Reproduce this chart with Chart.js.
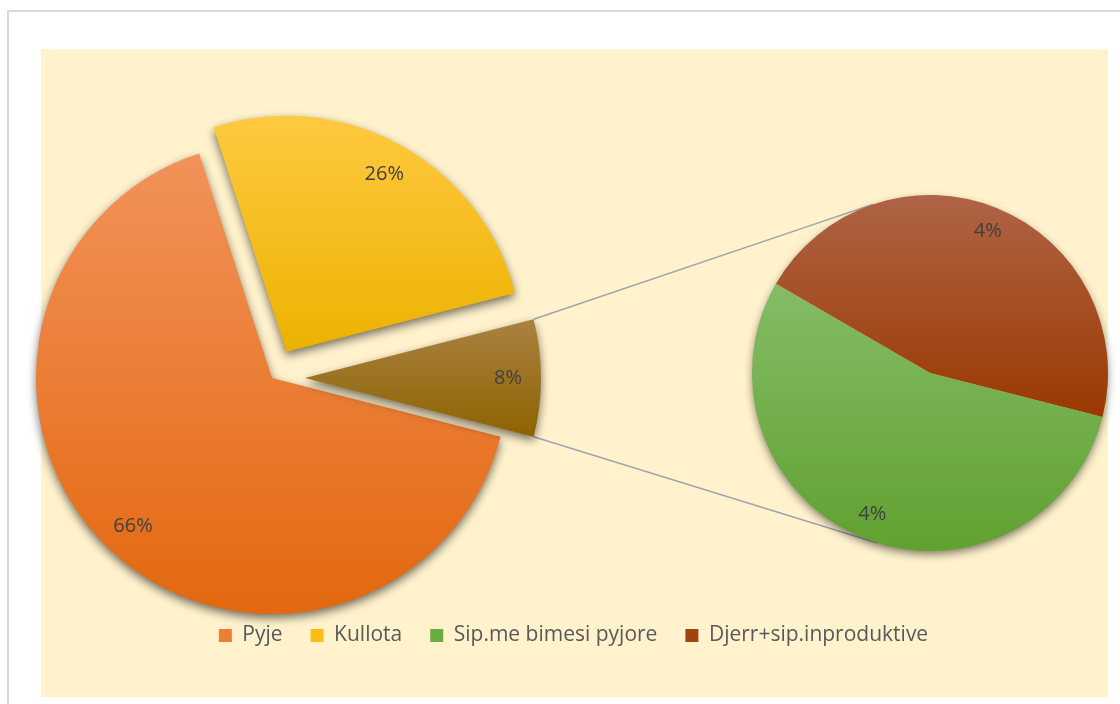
<!DOCTYPE html>
<html>
<head>
<meta charset="utf-8">
<script src="https://cdn.jsdelivr.net/npm/chart.js@4.4.1/dist/chart.umd.min.js"></script>
<style>
  html, body { margin: 0; padding: 0; background: #fff; }
  #wrap { position: relative; width: 1120px; height: 704px; overflow: hidden; }
  #frame { position: absolute; left: 7px; top: 10px; width: 1200px; height: 800px; border: 2px solid #d9d9d9; }
  #plot { position: absolute; left: 41px; top: 49px; width: 1067px; height: 648px; background: #fff2cc; }
  canvas { position: absolute; left: 0; top: 0; }
</style>
</head>
<body>
<div id="wrap">
  <div id="frame"></div>
  <div id="plot"></div>
  <canvas id="legendCanvas" width="1120" height="704"></canvas>
  <canvas id="mainCanvas" width="1120" height="704"></canvas>
  <canvas id="subCanvas" width="1120" height="704"></canvas>
</div>
<script>
// te dhenat (%)
const categories = ['Pyje', 'Kullota', 'Sip.me bimesi pyjore', 'Djerr+sip.inproduktive'];
const values = [66, 26, 4.35, 3.65];

// pie kryesore: dy kategorite e para + pjesa "tjeter" e ndare ne pien e dyte
const mainLabels = ['Pyje', 'Kullota', 'Tjeter'];
const mainValues = [values[0], values[1], values[2] + values[3]];
const subLabels = categories.slice(2);
const subValues = values.slice(2);

// ngjyrat [lart, poshte]
const mainColors = [['#F2925A', '#E3680F'], ['#FFC940', '#ECB200'], ['#AA8241', '#8D6300']];
const subColors = [['#84BC66', '#60A130'], ['#AF6446', '#9A3900']];
const legendColors = ['#EE7D35', '#FCBE14', '#6BAB43', '#A0440F'];

Chart.defaults.font.family = '"Open Sans", sans-serif';
const total = values.reduce((a, b) => a + b, 0);

// kufiri vertikal i nje fete (per gradientin)
function sliceBox(arc) {
  const r = arc.outerRadius;
  const ys = [arc.y, arc.y + Math.sin(arc.startAngle) * r, arc.y + Math.sin(arc.endAngle) * r];
  for (const a of [Math.PI / 2, Math.PI * 1.5]) {
    for (let k = -2; k <= 2; k++) {
      const t = a + k * Math.PI * 2;
      if (t > arc.startAngle && t < arc.endAngle) ys.push(arc.y + Math.sin(t) * r);
    }
  }
  return { top: Math.min(...ys), bottom: Math.max(...ys) };
}

const shading = {
  id: 'shading',
  // fetat e shkeputura: zhvendosje pa ndryshuar rrezen
  afterDatasetUpdate(chart, args, opts) {
    const explode = opts.explode || [];
    args.meta.data.forEach((arc, i) => {
      const e = explode[i] || 0;
      const mid = (arc.startAngle + arc.endAngle) / 2;
      arc.x += Math.cos(mid) * e;
      arc.y += Math.sin(mid) * e;
    });
  },
  beforeDatasetDraw(chart, args, opts) {
    const ctx = chart.ctx;
    args.meta.data.forEach((arc, i) => {
      const b = sliceBox(arc);
      const g = ctx.createLinearGradient(0, b.top, 0, b.bottom);
      g.addColorStop(0, opts.colors[i][0]);
      g.addColorStop(1, opts.colors[i][1]);
      arc.options.backgroundColor = g;
    });
    ctx.save();
    ctx.shadowColor = 'rgba(0,0,0,0.55)';
    ctx.shadowBlur = 10;
    ctx.shadowOffsetY = 4;
    if (opts.wholeShadow) {
      const arc = args.meta.data[0];
      ctx.fillStyle = '#fff2cc';
      ctx.beginPath();
      ctx.arc(arc.x, arc.y, arc.outerRadius - 1, 0, Math.PI * 2);
      ctx.fill();
      ctx.shadowColor = 'rgba(0,0,0,0)';
    }
  },
  afterDatasetDraw(chart) {
    chart.ctx.restore();
  }
};

const pctLabels = {
  id: 'pctLabels',
  afterDatasetsDraw(chart) {
    const ctx = chart.ctx;
    const data = chart.data.datasets[0].data;
    ctx.save();
    ctx.font = '20px "Open Sans"';
    ctx.fillStyle = '#404040';
    ctx.textAlign = 'center';
    ctx.textBaseline = 'middle';
    chart.getDatasetMeta(0).data.forEach((arc, i) => {
      const mid = (arc.startAngle + arc.endAngle) / 2;
      const d = arc.outerRadius * 0.86;
      ctx.fillText(Math.round(data[i] / total * 100) + '%',
        arc.x + Math.cos(mid) * d, arc.y + Math.sin(mid) * d);
    });
    ctx.restore();
  }
};

const mainChart = new Chart(document.getElementById('mainCanvas'), {
  type: 'pie',
  data: {
    labels: mainLabels,
    datasets: [{
      data: mainValues,
      backgroundColor: c => mainColors[c.dataIndex][1],
      borderWidth: 0,
      clip: false
    }]
  },
  options: {
    responsive: false,
    animation: false,
    events: [],
    rotation: 104.4,
    radius: 236,
    layout: { padding: { left: 36, right: 612, top: 142, bottom: 90 } },
    plugins: {
      legend: { display: false },
      tooltip: { enabled: false },
      shading: { colors: mainColors, explode: [0, 30, 33] }
    }
  },
  plugins: [shading, pctLabels]
});

const subChart = new Chart(document.getElementById('subCanvas'), {
  type: 'pie',
  data: {
    labels: subLabels,
    datasets: [{
      data: subValues,
      backgroundColor: c => subColors[c.dataIndex][1],
      borderWidth: 0,
      clip: false
    }]
  },
  options: {
    responsive: false,
    animation: false,
    events: [],
    rotation: 104.3,
    radius: 178,
    layout: { padding: { left: 752, right: 12, top: 195, bottom: 153 } },
    plugins: {
      legend: { display: false },
      tooltip: { enabled: false },
      shading: { colors: subColors, wholeShadow: true }
    }
  },
  plugins: [shading, pctLabels]
});

// vijat lidhese nga "tjeter" te pia e dyte (tangjente)
const connectors = {
  id: 'connectors',
  afterDraw(chart) {
    const ctx = chart.ctx;
    const other = mainChart.getDatasetMeta(0).data[2];
    const sub = subChart.getDatasetMeta(0).data[0];
    const corners = [other.startAngle, other.endAngle].map(a => ({
      x: other.x + Math.cos(a) * other.outerRadius,
      y: other.y + Math.sin(a) * other.outerRadius
    }));
    ctx.save();
    ctx.strokeStyle = '#9fa4ae';
    ctx.lineWidth = 1.5;
    corners.forEach((p, i) => {
      const dx = p.x - sub.x, dy = p.y - sub.y;
      const d = Math.hypot(dx, dy);
      const base = Math.atan2(dy, dx);
      const alpha = Math.acos(sub.outerRadius / d);
      const t = i === 0 ? base + alpha : base - alpha;
      ctx.beginPath();
      ctx.moveTo(p.x, p.y);
      ctx.lineTo(sub.x + Math.cos(t) * sub.outerRadius, sub.y + Math.sin(t) * sub.outerRadius);
      ctx.stroke();
    });
    ctx.restore();
  }
};

new Chart(document.getElementById('legendCanvas'), {
  type: 'pie',
  data: {
    labels: categories,
    datasets: [{ data: values, backgroundColor: legendColors, borderWidth: 0 }]
  },
  options: {
    responsive: false,
    animation: false,
    events: [],
    radius: 0,
    layout: { padding: { left: 27, bottom: 48 } },
    plugins: {
      tooltip: { enabled: false },
      legend: {
        position: 'bottom',
        labels: {
          boxWidth: 13,
          boxHeight: 13,
          padding: 28,
          color: '#595959',
          font: { size: 21 },
          generateLabels: () => categories.map((name, i) => ({
            text: name,
            fillStyle: legendColors[i],
            strokeStyle: legendColors[i],
            lineWidth: 0,
            fontColor: '#595959',
            hidden: false,
            index: i
          }))
        }
      }
    }
  },
  plugins: [connectors]
});
</script>
</body>
</html>
